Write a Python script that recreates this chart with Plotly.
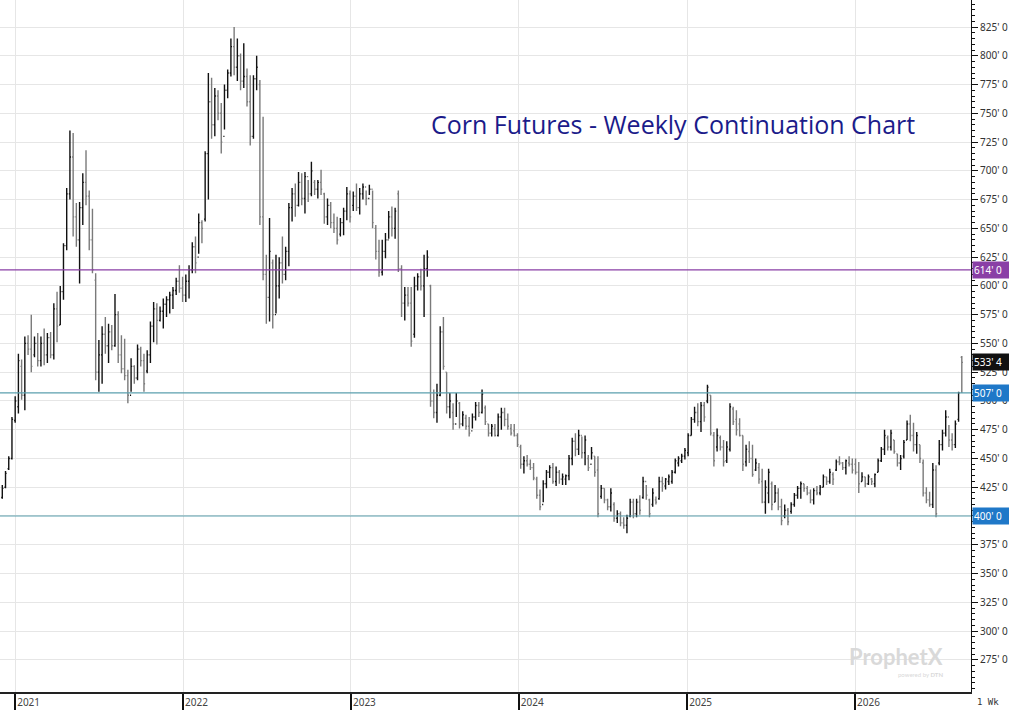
import plotly.graph_objects as go
import pandas as pd

# weekly bars, first week ending 2020-12-04
first_week = "2020-12-04"

highs = [
    427, 439, 452, 486, 504, 541, 536, 556, 557, 575, 556, 559, 556, 563, 559,
    560, 585, 595, 600, 637, 685, 735, 733, 672, 673, 698, 718, 683, 667, 611,
    553, 565, 573, 567, 566, 593, 578, 557, 554, 527, 537, 531, 549, 547, 541,
    544, 569, 586, 585, 582, 589, 591, 595, 599, 607, 618, 608, 610, 618, 638,
    643, 663, 657, 717, 785, 781, 772, 770, 759, 775, 788, 815, 825, 815, 802,
    811, 789, 783, 783, 800, 779, 747, 627, 659, 623, 627, 625, 643, 634, 672,
    685, 689, 699, 698, 699, 692, 708, 692, 692, 701, 681, 676, 673, 663, 660,
    659, 668, 686, 683, 682, 689, 685, 689, 683, 688, 683, 653, 640, 640, 646,
    665, 669, 668, 683, 618, 599, 599, 599, 608, 611, 615, 627, 631, 601, 510,
    515, 565, 573, 525, 507, 498, 507, 499, 491, 488, 486, 489, 499, 499, 510,
    496, 480, 480, 480, 489, 494, 494, 489, 480, 480, 472, 462, 452, 453, 449,
    446, 434, 423, 431, 440, 444, 446, 443, 440, 437, 436, 453, 468, 472, 475,
    469, 470, 453, 460, 452, 452, 427, 424, 415, 424, 412, 405, 404, 399, 401,
    415, 415, 415, 418, 434, 427, 415, 424, 417, 434, 434, 433, 436, 440, 450,
    452, 454, 459, 472, 486, 495, 498, 499, 499, 514, 505, 473, 476, 470, 466,
    465, 498, 495, 492, 485, 470, 462, 465, 462, 450, 446, 441, 431, 441, 430,
    427, 424, 415, 410, 407, 412, 420, 426, 430, 428, 426, 423, 424, 426, 427,
    436, 434, 441, 438, 449, 452, 447, 449, 452, 450, 450, 447, 438, 434, 436,
    433, 437, 450, 460, 475, 470, 475, 466, 454, 453, 466, 483, 488, 481, 473,
    462, 449, 425, 421, 446, 444, 466, 475, 492, 479, 472, 483, 508, 539,
]

lows = [
    415, 424, 440, 449, 481, 489, 501, 492, 540, 525, 538, 530, 530, 531, 533,
    537, 536, 551, 566, 588, 631, 675, 643, 634, 602, 653, 670, 631, 611, 518,
    508, 515, 541, 533, 544, 547, 533, 524, 518, 498, 508, 515, 518, 530, 508,
    524, 533, 551, 549, 569, 563, 573, 576, 580, 592, 594, 586, 586, 589, 611,
    611, 628, 637, 656, 675, 728, 730, 744, 715, 736, 763, 782, 783, 778, 770,
    772, 756, 722, 728, 770, 653, 605, 567, 569, 563, 576, 589, 602, 605, 617,
    656, 660, 669, 670, 663, 673, 678, 679, 676, 679, 654, 653, 650, 646, 636,
    643, 644, 657, 655, 665, 665, 662, 675, 670, 679, 650, 623, 608, 609, 624,
    641, 643, 641, 612, 573, 570, 582, 547, 555, 596, 596, 573, 608, 495, 485,
    481, 504, 527, 489, 485, 475, 486, 476, 478, 475, 469, 476, 483, 486, 489,
    479, 469, 469, 469, 469, 475, 478, 475, 470, 469, 460, 441, 437, 443, 440,
    431, 415, 405, 412, 424, 433, 428, 426, 428, 427, 427, 431, 444, 452, 453,
    450, 444, 439, 449, 434, 399, 415, 411, 405, 404, 395, 394, 391, 389, 385,
    399, 398, 399, 401, 415, 414, 399, 408, 410, 414, 421, 423, 427, 428, 437,
    443, 446, 449, 452, 470, 481, 478, 473, 482, 498, 470, 443, 456, 457, 443,
    446, 456, 479, 470, 469, 439, 443, 446, 434, 439, 428, 411, 402, 411, 405,
    412, 405, 392, 398, 392, 402, 408, 415, 415, 421, 418, 411, 410, 418, 418,
    425, 427, 428, 427, 439, 444, 440, 436, 443, 437, 436, 420, 430, 425, 427,
    427, 425, 438, 447, 453, 457, 457, 454, 443, 440, 450, 466, 465, 456, 454,
    446, 417, 411, 408, 407, 399, 444, 457, 469, 460, 457, 459, 482, 507,
]

opens = [
    416, 425, 441, 450, 483, 495, 530, 505, 550, 545, 540, 550, 535, 550, 540,
    555, 540, 580, 566, 595, 635, 680, 712, 660, 640, 668, 690, 678, 640, 605,
    525, 540, 558, 548, 560, 548, 575, 540, 528, 522, 505, 530, 520, 545, 535,
    526, 540, 565, 580, 570, 578, 584, 588, 592, 596, 604, 598, 592, 604, 614,
    634, 625, 655, 658, 715, 760, 740, 765, 750, 730, 770, 785, 808, 790, 800,
    778, 782, 760, 730, 780, 775, 660, 610, 590, 620, 575, 600, 620, 610, 630,
    668, 680, 670, 690, 676, 695, 680, 690, 684, 690, 680, 660, 670, 655, 650,
    645, 655, 665, 680, 670, 678, 668, 680, 686, 676, 684, 650, 630, 612, 630,
    640, 660, 650, 680, 615, 585, 592, 585, 558, 600, 608, 600, 615, 600, 500,
    490, 505, 560, 525, 495, 490, 480, 498, 480, 485, 478, 474, 486, 496, 490,
    494, 480, 472, 476, 470, 486, 490, 484, 476, 474, 470, 460, 445, 448, 445,
    442, 432, 418, 410, 428, 438, 442, 430, 438, 432, 432, 435, 450, 465, 458,
    470, 455, 450, 445, 452, 440, 417, 424, 414, 408, 410, 398, 402, 394, 392,
    400, 412, 402, 412, 416, 430, 414, 410, 414, 415, 430, 426, 430, 430, 438,
    446, 448, 452, 455, 470, 484, 490, 482, 496, 500, 505, 470, 460, 468, 460,
    448, 458, 493, 484, 480, 470, 447, 456, 450, 440, 442, 430, 412, 420, 428,
    412, 420, 408, 400, 405, 404, 410, 418, 424, 428, 424, 420, 414, 422, 420,
    425, 434, 430, 436, 440, 447, 446, 442, 446, 445, 445, 438, 430, 434, 428,
    432, 428, 438, 448, 458, 468, 460, 466, 454, 446, 452, 466, 480, 470, 462,
    462, 446, 420, 414, 410, 440, 446, 462, 472, 486, 466, 462, 484, 538,
]

closes = [
    424, 437, 450, 484, 500, 535, 505, 550, 545, 530, 550, 535, 550, 540, 555,
    540, 580, 565, 595, 635, 680, 712, 660, 640, 668, 690, 678, 640, 614, 525,
    540, 558, 548, 560, 548, 575, 540, 528, 522, 505, 530, 520, 545, 535, 515,
    540, 565, 580, 570, 578, 584, 588, 592, 596, 604, 598, 592, 604, 614, 634,
    620, 655, 650, 715, 760, 740, 765, 750, 725, 770, 785, 808, 790, 800, 778,
    782, 760, 730, 780, 790, 660, 610, 590, 630, 575, 600, 620, 610, 630, 668,
    680, 670, 690, 676, 695, 680, 700, 684, 690, 684, 660, 670, 655, 650, 640,
    655, 665, 680, 660, 678, 668, 680, 686, 676, 684, 655, 630, 612, 630, 640,
    660, 650, 665, 615, 585, 592, 585, 552, 600, 608, 600, 615, 625, 500, 490,
    505, 560, 530, 495, 500, 480, 500, 480, 488, 478, 472, 486, 496, 490, 506,
    482, 472, 478, 470, 486, 490, 484, 478, 472, 470, 462, 445, 448, 445, 442,
    433, 418, 408, 428, 438, 442, 430, 438, 432, 434, 435, 450, 465, 458, 470,
    455, 466, 442, 455, 438, 402, 424, 414, 408, 420, 398, 402, 394, 392, 398,
    412, 402, 412, 405, 430, 418, 402, 420, 412, 430, 428, 432, 434, 438, 448,
    450, 452, 457, 470, 484, 490, 482, 496, 486, 512, 472, 448, 470, 460, 447,
    460, 495, 482, 475, 470, 445, 458, 450, 436, 446, 432, 412, 425, 438, 410,
    420, 408, 396, 405, 395, 410, 418, 424, 428, 424, 420, 414, 422, 420, 425,
    434, 430, 438, 432, 447, 446, 442, 448, 445, 440, 438, 428, 434, 428, 434,
    430, 436, 448, 458, 470, 460, 472, 456, 446, 450, 464, 480, 470, 462, 470,
    450, 420, 414, 410, 440, 402, 462, 472, 486, 466, 462, 480, 507, 533.5,
]

year_ticks = ["2021-01-01", "2022-01-01", "2023-01-01", "2024-01-01", "2025-01-01", "2026-01-01"]
year_labels = ["2021", "2022", "2023", "2024", "2025", "2026"]

price_ticks = [275, 300, 325, 350, 375, 400, 425, 450, 475, 500, 525, 550,
               575, 600, 625, 650, 675, 700, 725, 750, 775, 800, 825]
price_labels = [f"{v}' 0" for v in price_ticks]

levels = [614, 507, 400]
level_labels = ["614' 0", "507' 0", "400' 0"]
level_line_colors = ["#8a3fa6", "#5b9fae", "#5b9fae"]
level_box_colors = ["#8a3fa6", "#1f78c8", "#1f78c8"]

last_price = 533.5
last_label = "533' 4"

weeks = pd.date_range(first_week, periods=len(highs), freq="7D")

fig = go.Figure(go.Ohlc(
    x=weeks, open=opens, high=highs, low=lows, close=closes,
    increasing_line_color="#111111", decreasing_line_color="#7a7a7a",
    line_width=1.4, tickwidth=0.35, hoverinfo="skip",
))

for lvl, col in zip(levels, level_line_colors):
    fig.add_hline(y=lvl, line_color=col, line_width=1.2)

for lvl, txt, col in zip(levels, level_labels, level_box_colors):
    fig.add_annotation(x=1, xref="paper", xanchor="left", y=lvl, yref="y",
                       text=txt, showarrow=False, bgcolor=col, borderpad=1,
                       font=dict(family="Noto Sans", size=10, color="white"),
                       xshift=1, width=34, align="left")

fig.add_annotation(x=1, xref="paper", xanchor="left", y=last_price, yref="y",
                   text=last_label, showarrow=False, bgcolor="#111111", borderpad=1,
                   font=dict(family="Noto Sans", size=10, color="white"),
                   xshift=1, width=34, align="left")

fig.add_annotation(x=0.6936, xref="paper", xanchor="center", y=741, yref="y", yanchor="middle",
                   text="Corn Futures - Weekly Continuation Chart", showarrow=False,
                   font=dict(family="Open Sans", size=25, color="#1b1b8a"))

# watermark
fig.add_annotation(x=0.973, xref="paper", xanchor="right", y=0.051, yref="paper", yanchor="middle",
                   text="<b>ProphetX</b>", showarrow=False,
                   font=dict(family="Lato", size=22, color="#d9d9d9"))
fig.add_annotation(x=0.973, xref="paper", xanchor="right", y=0.025, yref="paper", yanchor="middle",
                   text="powered by <b>DTN</b>", showarrow=False,
                   font=dict(family="Lato", size=6, color="#d9d9d9"))

fig.add_annotation(x=1, xref="paper", xanchor="left", y=-0.004, yref="paper", yanchor="top",
                   text="1 Wk", showarrow=False, xshift=4,
                   font=dict(family="DejaVu Sans Mono", size=9, color="#333333"))

fig.update_layout(
    width=1009, height=711,
    margin=dict(l=0, r=38, t=0, b=19),
    paper_bgcolor="white", plot_bgcolor="white",
    showlegend=False,
    xaxis=dict(
        range=["2020-11-29", "2026-09-10"],
        rangeslider=dict(visible=False),
        tickvals=year_ticks, ticktext=year_labels,
        ticklabelposition="outside right",
        ticks="outside", ticklen=16, tickwidth=2, tickcolor="#111111",
        tickfont=dict(family="Noto Sans", size=10, color="#444444"),
        showgrid=True, gridcolor="#e6e6e6", gridwidth=1,
        showline=True, linecolor="#222222", linewidth=2,
        zeroline=False,
    ),
    yaxis=dict(
        side="right", range=[247, 848.5],
        tickvals=price_ticks, ticktext=price_labels,
        ticks="outside", ticklen=6, tickcolor="#111111",
        tickfont=dict(family="Noto Sans", size=10, color="#333333"),
        minor=dict(dtick=5, ticks="outside", ticklen=3, tickcolor="#111111", showgrid=False),
        showgrid=True, gridcolor="#e6e6e6", gridwidth=1,
        showline=True, linecolor="#111111", linewidth=1,
        zeroline=False,
    ),
)

fig.write_html("out.html", config={"displayModeBar": False},
               post_script="document.body.style.margin='0';document.body.style.overflow='hidden';")
